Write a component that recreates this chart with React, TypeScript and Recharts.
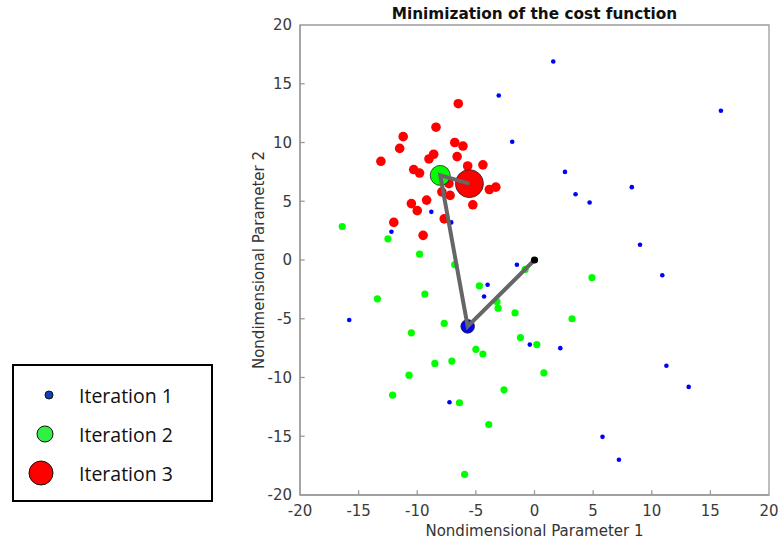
import React from 'react';
import { ScatterChart, Scatter, XAxis, YAxis, ReferenceArea, ReferenceLine } from 'recharts';

// candidate points of each iteration, [param1, param2]
const iteration1: [number, number][] = [
  [1.6, 16.9], [15.9, 12.7], [-3.05, 14.0], [-1.9, 10.06], [2.6, 7.5], [8.3, 6.2],
  [3.5, 5.6], [4.7, 4.9], [9.0, 1.3], [10.9, -1.3], [-8.8, 4.1], [-7.1, 3.2],
  [-12.2, 2.4], [-1.5, -0.4], [-4.0, -2.1], [-4.3, -3.1], [-15.8, -5.1], [-0.4, -7.2],
  [2.2, -7.5], [11.25, -9.0], [13.15, -10.8], [5.8, -15.05], [7.2, -17.0], [-7.25, -12.1],
];

const iteration2: [number, number][] = [
  [-16.4, 2.85], [-12.5, 1.8], [-9.8, 0.5], [-6.8, -0.4], [-0.8, -0.8], [-4.7, -2.2],
  [-13.4, -3.3], [-9.35, -2.9], [-3.2, -3.55], [-3.1, -4.1], [-1.66, -4.5], [-7.7, -5.4],
  [-10.5, -6.2], [-1.2, -6.6], [0.2, -7.2], [-5.0, -7.6], [-4.4, -8.0], [-7.05, -8.6],
  [-8.5, -8.8], [-10.7, -9.8], [-12.1, -11.5], [-2.6, -11.05], [-6.4, -12.15], [-3.9, -14.0],
  [-5.96, -18.25], [4.9, -1.5], [3.2, -5.0], [0.8, -9.6],
];

const iteration3: [number, number][] = [
  [-6.5, 13.3], [-8.4, 11.3], [-11.2, 10.5], [-11.5, 9.5], [-13.1, 8.4], [-6.8, 10.0],
  [-6.1, 9.7], [-8.6, 9.0], [-9.0, 8.6], [-6.6, 8.8], [-5.7, 8.0], [-4.4, 8.1],
  [-10.3, 7.7], [-9.8, 7.4], [-7.3, 6.5], [-3.85, 6.0], [-3.3, 6.2], [-7.9, 5.8],
  [-7.2, 5.5], [-10.5, 4.8], [-10.0, 4.2], [-9.2, 5.1], [-5.26, 4.7], [-7.7, 3.5],
  [-12.0, 3.2], [-9.5, 2.1],
];

// start point and best point of each iteration
const start: [number, number] = [0, 0];
const best1: [number, number] = [-5.7, -5.65];
const best2: [number, number] = [-8.04, 7.2];
const best3: [number, number] = [-5.55, 6.5];

const ticks = [-20, -15, -10, -5, 0, 5, 10, 15, 20];
const legendLabels = ['Iteration 1', 'Iteration 2', 'Iteration 3'];

const toPts = (arr: [number, number][]) => arr.map(([x, y]) => ({ x, y }));

const dot = (r: number, fill: string, stroke = 'none', sw = 0) => (props: any) => (
  <circle cx={props.cx} cy={props.cy} r={r} fill={fill} stroke={stroke} strokeWidth={sw} />
);

const FONT = '"DejaVu Sans", sans-serif';
const AXIS_GRAY = '#9a9a9a';
const tickStyle = { fill: '#3a3a3a', fontSize: 15, fontFamily: FONT };

const legendMarkers = [
  { r: 4, fill: '#1040c0' },
  { r: 8, fill: '#33ee44' },
  { r: 12, fill: '#ff0000' },
];

function LegendBox() {
  return (
    <div
      style={{
        position: 'absolute', left: 12, top: 364, width: 197, height: 134,
        border: '2px solid #000', background: '#fff', fontFamily: '"Open Sans", sans-serif',
      }}
    >
      {legendLabels.map((label, i) => (
        <div key={label} style={{ position: 'absolute', left: 0, top: 15 + i * 39, height: 28, display: 'flex', alignItems: 'center' }}>
          <svg width={42} height={28} style={{ display: 'block' }}>
            <circle cx={39 - legendMarkers[i].r} cy={14} r={legendMarkers[i].r} fill={legendMarkers[i].fill} stroke="#111" strokeWidth={1} />
          </svg>
          <span style={{ marginLeft: 23, fontSize: 19.5, color: '#111' }}>{label}</span>
        </div>
      ))}
    </div>
  );
}

export default function App() {
  const path = toPts([start, best1, best2, best3]);
  return (
    <div style={{ position: 'absolute', left: 0, top: 0, width: 780, height: 541, background: '#fff' }}>
      <div
        style={{
          position: 'absolute', left: 300, width: 469, top: 5, textAlign: 'center',
          fontFamily: FONT, fontWeight: 'bold', fontSize: 15.3, color: '#111',
        }}
      >
        Minimization of the cost function
      </div>
      <ScatterChart width={780} height={541} margin={{ top: 25, right: 11, bottom: 1, left: 222 }}>
        <XAxis
          type="number" dataKey="x" domain={[-20, 20]} ticks={ticks} allowDataOverflow
          tickLine={false} axisLine={{ stroke: AXIS_GRAY, strokeWidth: 1.3 }} tick={tickStyle} tickMargin={4} height={45}
          label={{ value: 'Nondimensional Parameter 1', position: 'insideBottom', offset: 4, style: { ...tickStyle, fill: '#333' } }}
        />
        <YAxis
          type="number" dataKey="y" domain={[-20, 20]} ticks={ticks} allowDataOverflow
          tickLine={false} axisLine={{ stroke: AXIS_GRAY, strokeWidth: 1.3 }} tick={tickStyle} width={78}
          label={{ value: 'Nondimensional Parameter 2', angle: -90, position: 'center', dx: -2, style: { ...tickStyle, fill: '#333' } }}
        />
        <ReferenceArea x1={-20} x2={20} y1={-20} y2={20} fill="none" stroke={AXIS_GRAY} strokeWidth={1.3} />
        {ticks.slice(1, -1).map((t) => (
          <ReferenceLine key={'xt' + t} segment={[{ x: t, y: -20 }, { x: t, y: -19.6 }]} stroke={AXIS_GRAY} strokeWidth={1.3} />
        ))}
        {ticks.slice(1, -1).map((t) => (
          <ReferenceLine key={'yt' + t} segment={[{ x: -20, y: t }, { x: -19.6, y: t }]} stroke={AXIS_GRAY} strokeWidth={1.3} />
        ))}
        <Scatter data={toPts(iteration2)} shape={dot(3.6, '#00ff00')} isAnimationActive={false} />
        <Scatter data={toPts(iteration3)} shape={dot(4.8, '#ff0000')} isAnimationActive={false} />
        <Scatter data={toPts(iteration1)} shape={dot(2.3, '#0000ff')} isAnimationActive={false} />
        <Scatter data={toPts([best1])} shape={dot(6.8, '#0000ff', '#222', 0.8)} isAnimationActive={false} />
        <Scatter data={toPts([best2])} shape={dot(10, '#00ff00', '#222', 0.8)} isAnimationActive={false} />
        <Scatter data={toPts([best3])} shape={dot(14, '#ff0000', '#222', 0.8)} isAnimationActive={false} />
        {/* search path drawn over the best points */}
        <Scatter data={path} line={{ stroke: '#666', strokeWidth: 4 }} shape={() => <g />} isAnimationActive={false} />
        <Scatter data={toPts([start])} shape={dot(3.6, '#000')} isAnimationActive={false} />
      </ScatterChart>
      <LegendBox />
    </div>
  );
}
